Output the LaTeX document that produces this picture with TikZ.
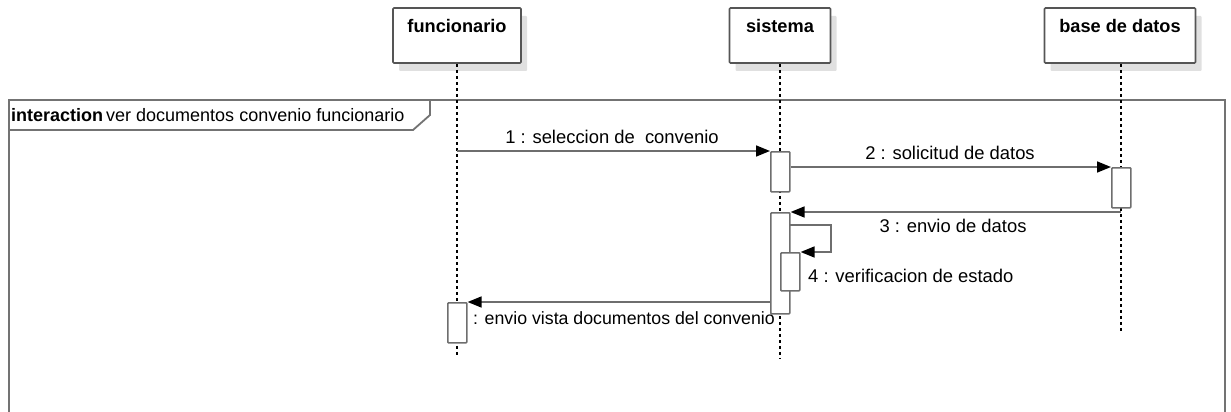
\documentclass[tikz,border=0pt]{standalone}
\usepackage{fontspec}
\setmainfont{Liberation Sans}
\usetikzlibrary{arrows.meta,shadows}
\definecolor{linegray}{HTML}{6E6E6E}
\definecolor{boxgray}{HTML}{555555}
\tikzset{
  actorbox/.style={draw=boxgray, line width=1.6pt, fill=white, rounded corners=1pt,
    drop shadow={shadow xshift=6pt, shadow yshift=-8pt, fill=black!12, opacity=1},
    minimum height=55pt, inner sep=0pt},
  actorlabel/.style={font=\fontsize{18.2}{21}\selectfont\bfseries, inner sep=0pt},
  lifeline/.style={draw=black, line width=1.4pt, dash pattern=on 3pt off 3pt},
  actbox/.style={draw=linegray, line width=1.6pt, fill=white, rounded corners=0.8pt,
    minimum width=19pt, inner sep=0pt},
  msg/.style={draw=linegray, line width=1.6pt, -{Triangle[length=14pt,width=11pt,color=black]}},
  msglabel/.style={font=\fontsize{18.4}{21}\selectfont, inner sep=0pt},
  framestyle/.style={draw=black!55, line width=1.8pt},
}
\begin{document}
\begin{tikzpicture}[x=1pt,y=-1pt]
\useasboundingbox (0,0) rectangle (1231,412);

% frame
\draw[framestyle] (9,412) -- (9,100) -- (1225,100) -- (1225,412);
\draw[framestyle] (9,130) -- (413,130) -- (430,115) -- (430,100);
\node[msglabel, anchor=west, font=\fontsize{18}{21}\selectfont] (framelabel) at (11,115) {\textbf{interaction}\,ver documentos convenio funcionario};

% actors
\node[actorbox, minimum width=128pt] (fbox) at (457,35.5) {};
\node[actorbox, minimum width=101pt] (sbox) at (780,35.5) {};
\node[actorbox, minimum width=151pt] (bbox) at (1120,35.5) {};
\node[actorlabel] (flab) at (457,26) {funcionario};
\node[actorlabel] (slab) at (780,26) {sistema};
\node[actorlabel] (blab) at (1120,26) {base de datos};

% lifeline ends
\coordinate (fend) at (457,356);
\coordinate (send) at (780,358);
\coordinate (bend) at (1121,332);
\draw[lifeline] (fbox.south) -- (fend);
\draw[lifeline] (sbox.south) -- (send);
\draw[lifeline] (bbox.south -| bend) -- (bend);

% activations
\node[actbox, minimum height=40pt, anchor=north west] (a1) at (770,151) {};
\node[actbox, minimum height=40pt, anchor=north west] (a2) at (1111,167) {};
\node[actbox, minimum height=101pt, anchor=north west] (a3) at (770,212) {};
\node[actbox, minimum height=38pt, anchor=north west] (a4) at (780,252) {};
\node[actbox, minimum height=40pt, anchor=north west] (a5) at (447,302) {};

% messages
\coordinate (m1s) at (457,151);
\draw[msg] (m1s) -- (a1.north west);
\node[msglabel] (l1) at (612,137) {1 : seleccion de\ \ convenio};

\draw[msg] (a1.east |- a2.north west) -- (a2.north west);
\node[msglabel] (l2) at (950,153) {2 : solicitud de datos};

\coordinate (m3s) at (1121,212);
\draw[msg] (m3s) -- (a3.north east);
\node[msglabel] (l3) at (953,226) {3 : envio de datos};

\coordinate (m4s) at (789,225);
\coordinate (m4c) at (831,225);
\draw[msg] (m4s) -- (m4c) |- (a4.north east);
\node[msglabel, anchor=west] (l4) at (808,276) {4 : verificacion de estado};

\draw[msg] (a3.west |- a5.north east) -- (a5.north east);
\node[msglabel, anchor=west, font=\fontsize{17.75}{21}\selectfont] (l5) at (473,318) {: envio vista documentos del convenio};
\end{tikzpicture}
\end{document}
